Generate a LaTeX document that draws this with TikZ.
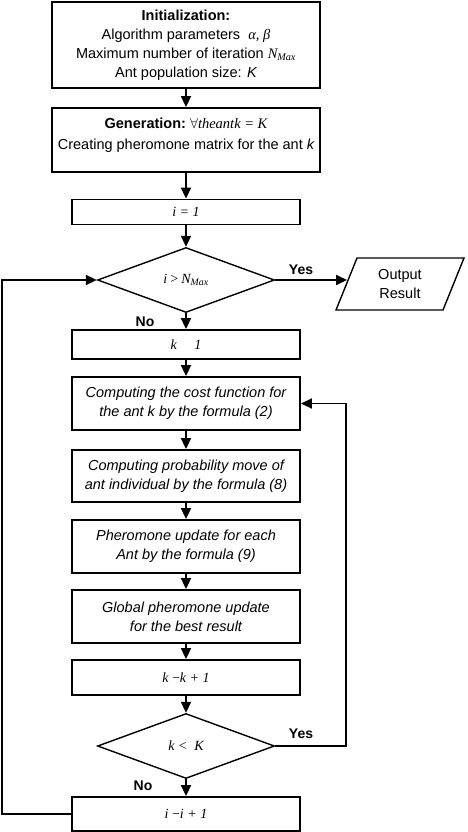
\documentclass[tikz,border=0pt]{standalone}
\usepackage{fontspec}
\setmainfont{Liberation Sans}
\newfontfamily\tms{Liberation Serif}
\usetikzlibrary{shapes.geometric,arrows.meta}
\begin{document}
\begin{tikzpicture}[x=1pt,y=-1pt,
  txt/.style={font=\fontsize{14.5}{19}\selectfont,align=center,inner sep=0pt},
  boxbig/.style={draw,line width=1.9pt,minimum width=268pt,inner sep=0pt},
  boxs/.style={draw,line width=1.9pt,minimum width=228pt,inner sep=0pt,align=center,
     font=\fontsize{14.5}{19}\selectfont\itshape},
  mbox/.style={draw,line width=1.9pt,minimum width=228pt,inner sep=0pt,align=center,
     font=\fontsize{14}{17}\selectfont\tms\itshape},
  dec/.style={diamond,draw,line width=1.4pt,minimum width=177pt,minimum height=65pt,
     aspect=2.7,inner sep=0pt,font=\fontsize{14}{17}\selectfont\tms\itshape},
  lab/.style={font=\fontsize{14}{17}\selectfont\bfseries,inner sep=0pt},
  arr/.style={line width=1.9pt,-{Triangle[length=11pt,width=10pt]}},
  ln/.style={line width=1.9pt}
]
\useasboundingbox (0,0) rectangle (467,832);

% boxes
\node[boxbig,minimum height=86pt] (init) at (186,45) {};
\node[txt] (initt) at (186,45) {\textbf{Initialization:}\\
  Algorithm parameters\ \ {\tms\itshape α, β}\\
  Maximum number of iteration\ {\tms\itshape N\textsubscript{Max}}\\
  Ant population size: {\itshape K}};

\node[boxbig,minimum height=64pt] (gen) at (186,140) {};
\node[txt] (gent) at (186,135) {\textbf{Generation:}\ {\tms\itshape $\forall$theantk = K}\\[2pt]
  Creating pheromone matrix for the ant {\itshape k}};

\node[mbox,minimum height=25pt] (i1) at (186,212) {i = 1};

\node[dec] (d1) at (186,280) {i\,>\,N\textsubscript{Max}};

\node[mbox,minimum height=29pt] (k1) at (186,344.5) {k\quad\ 1};

\node[boxs,minimum height=53pt] (cost) at (186,403.5) {Computing the cost function for\\the ant k by the formula (2)};
\node[boxs,minimum height=52pt] (prob) at (186,476) {Computing probability move of\\ant individual by the formula (8)};
\node[boxs,minimum height=53pt] (pher) at (186,546.5) {Pheromone update for each\\Ant by the formula (9)};
\node[boxs,minimum height=53pt] (glob) at (186,616.5) {Global pheromone update\\for the best result};

\node[mbox,minimum height=35pt] (kk) at (186,677.5) {k {\upshape −}k + 1};

\node[dec] (d2) at (186,746) {k <\ \ K};

\node[mbox,minimum height=34pt] (ii) at (186,814) {i {\upshape −}i + 1};

% output parallelogram
\draw[line width=1.4pt] (336,310) -- (357,258) -- (464,258) -- (443,310) -- cycle;
\node[txt] (outt) at (400,284) {Output\\Result};
\coordinate (outL) at (347,280);

% connectors
\draw[arr] (init) -- (gen);
\draw[arr] (gen) -- (i1);
\draw[arr] (i1) -- (d1);
\draw[arr] (d1.east) -- (outL);
\node[lab] (yes1) at (301,270) {Yes};
\draw[arr] (d1.south) -- (k1);
\node[lab] (no1) at (145,322) {No};
\draw[arr] (k1) -- (cost);
\draw[arr] (cost) -- (prob);
\draw[arr] (prob) -- (pher);
\draw[arr] (pher) -- (glob);
\draw[arr] (glob) -- (kk);
\draw[arr] (kk) -- (d2);
\draw[arr] (d2.south) -- (ii);
\node[lab] (no2) at (143,786) {No};

\coordinate (rr) at (346,746);
\draw[arr] (d2.east) -- (rr) |- (cost.east);
\node[lab] (yes2) at (301,734) {Yes};

\coordinate (ll) at (2,814);
\draw[arr] (ii.west) -- (ll) |- (d1.west);
\end{tikzpicture}
\end{document}
